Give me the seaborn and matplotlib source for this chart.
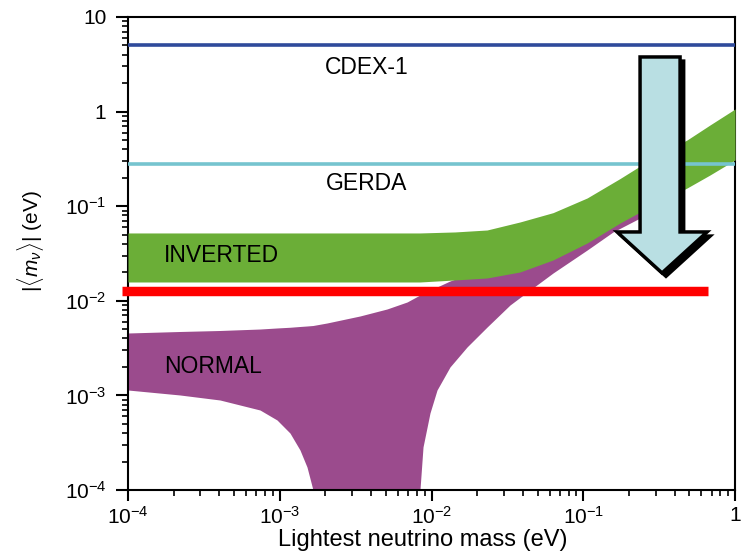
import numpy as np
import pandas as pd
import matplotlib
matplotlib.use("Agg")
import matplotlib.pyplot as plt
import seaborn as sns
from matplotlib.patches import Polygon

# inverted ordering band: lightest mass (eV) and edges of |<m>| (eV)
inv_mass = [1e-4, 1.0e-3, 3.38e-3, 8.39e-3, 0.01429, 0.02323, 0.0383, 0.0632,
            0.106, 0.175, 0.288, 0.483, 0.684, 1.0]
inv_upper = [0.0521, 0.0521, 0.0521, 0.0521, 0.0534, 0.0560, 0.0681, 0.0854,
             0.1221, 0.1963, 0.3232, 0.5010, 0.7218, 1.065]
inv_lower = [0.0158, 0.0158, 0.0158, 0.0158, 0.0166, 0.01742, 0.02016, 0.0270,
             0.0408, 0.0665, 0.1030, 0.1557, 0.2137, 0.3079]

# normal ordering band (1e-4 marks where the band drops out of the plot)
norm_mass = [1e-4, 2.202e-4, 4.04e-4, 7.41e-4, 9.59e-4, 1.168e-3, 1.359e-3, 1.512e-3,
             1.656e-3, 2.048e-3, 3.38e-3, 5.09e-3, 6.90e-3, 8.39e-3, 8.79e-3, 9.77e-3,
             0.01087, 0.01324, 0.01714, 0.02323, 0.0329, 0.0446, 0.0632, 0.106,
             0.157, 0.2366, 0.483, 1.0]
norm_upper = [4.567e-3, 4.737e-3, 4.853e-3, 5.03e-3, 5.16e-3, 5.25e-3, 5.35e-3, 5.415e-3,
              5.48e-3, 5.825e-3, 6.91e-3, 8.19e-3, 9.71e-3, 0.01151, 0.01194, 0.01301,
              0.01399, 0.01620, 0.01874, 0.02222, 0.0270, 0.0328, 0.0418, 0.0618,
              0.0869, 0.1221, 0.2414, 0.501]
norm_lower = [1.140e-3, 1.010e-3, 8.94e-4, 7.01e-4, 5.50e-4, 4.00e-4, 2.65e-4, 1.75e-4,
              1e-4, 1e-4, 1e-4, 1e-4, 1e-4, 1e-4, 2.85e-4, 6.52e-4,
              1.14e-3, 2.00e-3, 3.25e-3, 5.28e-3, 9.03e-3, 0.01301, 0.01967, 0.0344,
              0.0534, 0.0750, 0.1635, 0.3232]

# experimental limits (eV)
limit_names = ["CDEX-1", "GERDA"]
limit_values = [5.0, 0.28]
future_limit = 0.0128
future_range = [9.1e-5, 0.66]

sns.set_style("ticks")
plt.rcParams["font.family"] = ["Liberation Sans", "DejaVu Sans"]
plt.rcParams["mathtext.fontset"] = "custom"
plt.rcParams["mathtext.rm"] = "Liberation Sans"
plt.rcParams["mathtext.it"] = "Liberation Sans:italic"
for key in ["text.color", "axes.labelcolor", "xtick.color", "ytick.color"]:
    plt.rcParams[key] = "black"

fig = plt.figure(figsize=(7.44, 5.52), dpi=100)
ax = fig.add_axes([0.172, 0.1123, 0.816, 0.857])

ax.fill_between(norm_mass, norm_lower, norm_upper, color="#9b4b8d", lw=0, zorder=2)
ax.fill_between(inv_mass, inv_lower, inv_upper, color="#6bae37", lw=0, zorder=3)

limits = pd.DataFrame({
    "mass": [1e-4, 1.0] * 2,
    "value": [v for v in limit_values for _ in range(2)],
    "name": [n for n in limit_names for _ in range(2)],
})
sns.lineplot(data=limits, x="mass", y="value", hue="name",
             palette={"CDEX-1": "#2f4a9b", "GERDA": "#76c4cf"},
             linewidth=2.6, legend=False, ax=ax, zorder=4)

ax.plot(future_range, [future_limit, future_limit], color="#ff0000",
        linewidth=6.8, solid_capstyle="butt", clip_on=False, zorder=5)

# big arrow (axes fraction coordinates)
arrow = [(0.8435, 0.9154), (0.9094, 0.9154), (0.9094, 0.5455), (0.9539, 0.5455),
         (0.8797, 0.4588), (0.8056, 0.5455), (0.8435, 0.5455)]
shadow = [(x + 0.0065, y - 0.008) for x, y in arrow]
ax.add_patch(Polygon(shadow, closed=True, transform=ax.transAxes,
                     facecolor="black", edgecolor="black", lw=2.0,
                     joinstyle="miter", zorder=6))
ax.add_patch(Polygon(arrow, closed=True, transform=ax.transAxes,
                     facecolor="#b9dfe3", edgecolor="black", lw=2.5,
                     joinstyle="miter", zorder=7))

ax.text(3.76e-3, 2.89, "CDEX-1", ha="center", va="center", fontsize=16.5, zorder=8)
ax.text(3.76e-3, 0.172, "GERDA", ha="center", va="center", fontsize=16.5, zorder=8)
ax.text(1.72e-4, 0.0298, "INVERTED", ha="left", va="center", fontsize=16.5, zorder=8)
ax.text(1.72e-4, 2.0e-3, "NORMAL", ha="left", va="center", fontsize=16.5, zorder=8)

ax.set_xscale("log")
ax.set_yscale("log")
ax.set_xlim(1e-4, 1)
ax.set_ylim(1e-4, 10)
ax.set_xticks([1e-4, 1e-3, 1e-2, 1e-1, 1])
ax.set_xticklabels([r"$10^{-4}$", r"$10^{-3}$", r"$10^{-2}$", r"$10^{-1}$", "1"])
ax.set_yticks([1e-4, 1e-3, 1e-2, 1e-1, 1, 10])
ax.set_yticklabels([r"$10^{-4}$", r"$10^{-3}$", r"$10^{-2}$", r"$10^{-1}$", "1", "10"])
ax.set_xlabel("Lightest neutrino mass (eV)", fontsize=17)
ax.set_ylabel(r"$|\langle m_\nu\rangle|$ (eV)", fontsize=15, labelpad=10)
ax.xaxis.set_label_coords(0.485, -0.083)
ax.yaxis.set_label_coords(-0.135, 0.527)
ax.tick_params(axis="both", which="major", labelsize=15, length=8, width=1.5,
               direction="out")
ax.tick_params(axis="y", which="major", length=8.5, pad=7)
ax.tick_params(axis="both", which="minor", length=4, width=1.2, direction="out")
for side in ["top", "right"]:
    ax.tick_params(which="both", **{side: False})
for spine in ax.spines.values():
    spine.set_visible(True)
    spine.set_linewidth(1.5)
    spine.set_color("black")

fig.savefig("out.png", dpi=100)
